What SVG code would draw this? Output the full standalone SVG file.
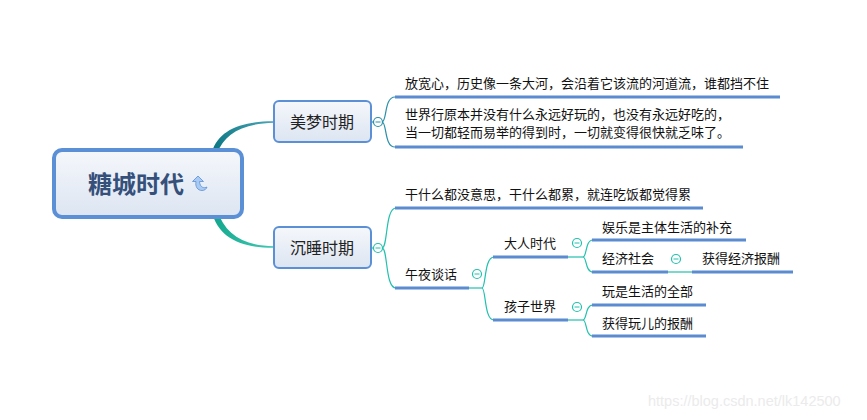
<svg xmlns="http://www.w3.org/2000/svg" width="867" height="420" viewBox="0 0 867 420">
<defs>
<linearGradient id="nodeFill" x1="0" y1="0" x2="0" y2="1">
<stop offset="0" stop-color="#f5f7fb"/>
<stop offset="1" stop-color="#dce5f2"/>
</linearGradient>
<linearGradient id="upGrad" x1="212" y1="150" x2="274" y2="122" gradientUnits="userSpaceOnUse">
<stop offset="0" stop-color="#0a7582"/>
<stop offset="1" stop-color="#4aa6b6"/>
</linearGradient>
<linearGradient id="lowGrad" x1="212" y1="214" x2="274" y2="247" gradientUnits="userSpaceOnUse">
<stop offset="0" stop-color="#0fa58a"/>
<stop offset="1" stop-color="#40c8b4"/>
</linearGradient>
</defs>
<style>
.node rect{fill:url(#nodeFill);stroke:#5b8fd6;stroke-width:2}
.t{font-family:"Noto Sans CJK SC","Microsoft YaHei",sans-serif;font-size:13px;fill:#111}
.nt{font-family:"Noto Sans CJK SC",sans-serif;font-size:16px;fill:#222;text-anchor:middle}
.ul{stroke:#5b8bd0;stroke-width:3;fill:none}
.c1{stroke:#2a8fa8;stroke-width:1.2;fill:none}
.c2{stroke:#22c0ae;stroke-width:1.2;fill:none}
.tog1{fill:#fff;stroke:#2a8fa8;stroke-width:1.2}
.tog2{fill:#fff;stroke:#22c0ae;stroke-width:1.2}
</style>
<rect width="867" height="420" fill="#ffffff"/>
<g id="connectors">
<path d="M212,152 C218,131 240,121 274,121.2 L274,122.8 C242,123.5 224,134 217,154 Z" fill="url(#upGrad)"/>
<path d="M212,212 C218,237 240,248 274,247.8 L274,246.2 C243,246 225,234 217,210 Z" fill="url(#lowGrad)"/>
<line x1="371" y1="122" x2="374" y2="122" class="c1"/>
<path class="c1" d="M382,122 C387,122 384,97 395,97"/>
<path class="c1" d="M382,122 C387,122 384,147 395,147"/>
<line x1="371" y1="248" x2="374" y2="248" class="c2"/>
<path class="c2" d="M382,248 C388,248 385,208 396,208"/>
<path class="c2" d="M382,248 C388,248 385,288 396,288"/>
<path class="c2" d="M469,288 L482,288"/>
<path class="c2" d="M482,288 C486,288 484,257 494,257"/>
<path class="c2" d="M482,288 C486,288 484,320 494,320"/>
<path class="c2" d="M568,257 L583,257"/>
<path class="c2" d="M583,257 C587,257 585,240 593,240"/>
<path class="c2" d="M583,257 C587,257 585,272 593,272"/>
<path class="c2" d="M668,272 L692,272"/>
<path class="c2" d="M568,320 L583,320"/>
<path class="c2" d="M583,320 C587,320 585,305 593,305"/>
<path class="c2" d="M583,320 C587,320 585,336 593,336"/>
<circle class="tog1" cx="378" cy="122" r="4.5"/><line x1="375.5" y1="122" x2="380.5" y2="122" stroke="#2a8fa8"/>
<circle class="tog2" cx="378" cy="248" r="4.5"/><line x1="375.5" y1="248" x2="380.5" y2="248" stroke="#22c0ae"/>
<circle class="tog2" cx="477" cy="274" r="4.5"/><line x1="474.5" y1="274" x2="479.5" y2="274" stroke="#22c0ae"/>
<circle class="tog2" cx="577" cy="243" r="4.5"/><line x1="574.5" y1="243" x2="579.5" y2="243" stroke="#22c0ae"/>
<circle class="tog2" cx="676" cy="259" r="4.5"/><line x1="673.5" y1="259" x2="678.5" y2="259" stroke="#22c0ae"/>
<circle class="tog2" cx="577" cy="307" r="4.5"/><line x1="574.5" y1="307" x2="579.5" y2="307" stroke="#22c0ae"/>
</g>
<g id="central" class="node">
<rect x="54" y="150" width="188" height="67" rx="8" style="stroke-width:4"/>
<text x="88" y="193" font-family="Noto Sans CJK SC, sans-serif" font-size="24" font-weight="bold" fill="#35507a">糖城时代</text>
<path d="M198,176 L192.5,181.5 L196,181.5 C195,186.5 197.5,190.5 202,190.5 C204.5,190.5 206.5,189 207,187 C204.5,188.5 200,188 199.5,181.5 L203.5,181.5 Z" fill="#a9cbf3" stroke="#5b8fd6" stroke-width="0.8"/>
</g>
<g id="meimeng" class="node">
<rect x="274" y="101" width="97" height="41" rx="5"/>
<text class="nt" x="322" y="128">美梦时期</text>
</g>
<g id="chenshui" class="node">
<rect x="274" y="227" width="97" height="41" rx="5"/>
<text class="nt" x="322" y="254">沉睡时期</text>
</g>
<g id="fangkuanxin">
<text class="t" x="405" y="88">放宽心，历史像一条大河，会沿着它该流的河道流，谁都挡不住</text>
<line class="ul" x1="395" y1="97" x2="780" y2="97"/>
</g>
<g id="shijie">
<text class="t" x="405" y="119">世界行原本并没有什么永远好玩的，也没有永远好吃的，</text>
<text class="t" x="405" y="137">当一切都轻而易举的得到时，一切就变得很快就乏味了。</text>
<line class="ul" x1="395" y1="147" x2="743" y2="147"/>
</g>
<g id="ganshenme">
<text class="t" x="405" y="199">干什么都没意思，干什么都累，就连吃饭都觉得累</text>
<line class="ul" x1="395" y1="208" x2="703" y2="208"/>
</g>
<g id="wuye">
<text class="t" x="405" y="279">午夜谈话</text>
<line class="ul" x1="395" y1="288" x2="469" y2="288"/>
</g>
<g id="daren">
<text class="t" x="504" y="248">大人时代</text>
<line class="ul" x1="493" y1="257" x2="568" y2="257"/>
</g>
<g id="haizi">
<text class="t" x="504" y="311">孩子世界</text>
<line class="ul" x1="493" y1="320" x2="568" y2="320"/>
</g>
<g id="yule">
<text class="t" x="602" y="232">娱乐是主体生活的补充</text>
<line class="ul" x1="592" y1="240" x2="746" y2="240"/>
</g>
<g id="jingji">
<text class="t" x="602" y="263">经济社会</text>
<line class="ul" x1="592" y1="272" x2="668" y2="272"/>
</g>
<g id="huodejingji">
<text class="t" x="702" y="263">获得经济报酬</text>
<line class="ul" x1="692" y1="272" x2="793" y2="272"/>
</g>
<g id="wan">
<text class="t" x="602" y="296">玩是生活的全部</text>
<line class="ul" x1="592" y1="305" x2="706" y2="305"/>
</g>
<g id="huodewan">
<text class="t" x="602" y="328">获得玩儿的报酬</text>
<line class="ul" x1="592" y1="336" x2="706" y2="336"/>
</g>
<text x="648" y="406" font-family="Liberation Sans, Arial, sans-serif" font-size="14.5" fill="#ebebeb">https://blog.csdn.net/lk142500</text>
</svg>
